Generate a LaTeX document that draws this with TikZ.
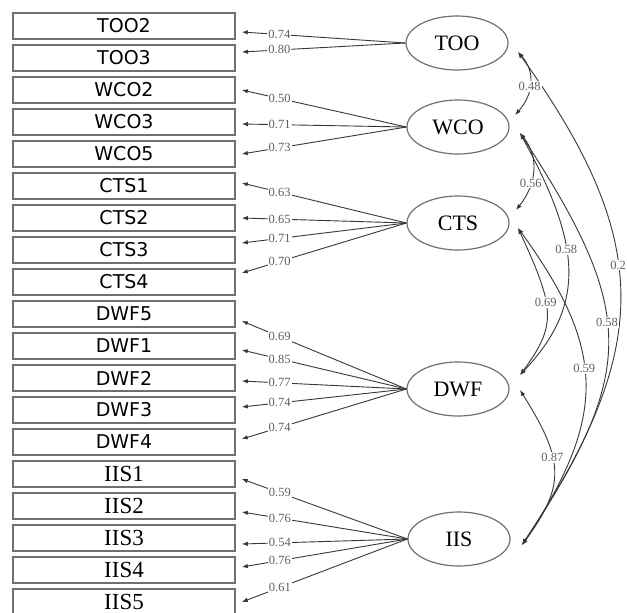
\documentclass[tikz,border=0pt]{standalone}
\usepackage{fontspec}
\setmainfont{Liberation Serif}
\newfontfamily\boxsans{DejaVu Sans}
\usetikzlibrary{calc,arrows.meta,shapes.geometric}
\definecolor{boxgray}{HTML}{707070}
\definecolor{linegray}{HTML}{383838}
\definecolor{labgray}{HTML}{606060}
\begin{document}
\begin{tikzpicture}[x=1pt,y=-1pt,
 obs/.style={draw=boxgray, line width=1.6pt, fill=white, minimum width=222pt, minimum height=26pt, inner sep=0pt, font=\boxsans\fontsize{19}{22}\selectfont},
 obsserif/.style={obs, font=\rmfamily\fontsize{23}{26}\selectfont},
 lat/.style={ellipse, draw=boxgray, line width=1.2pt, minimum width=102pt, minimum height=54pt, inner sep=0pt, font=\fontsize{22}{24}\selectfont},
 load/.style={draw=linegray, line width=0.9pt, -{Latex[length=6pt,width=4.5pt]}},
 cov/.style={draw=linegray, line width=0.9pt, {Latex[length=6pt,width=4.5pt]}-{Latex[length=6pt,width=4.5pt]}},
 lab/.style={fill=white, inner sep=1pt, text=labgray, font=\fontsize{12.5}{14}\selectfont}
]
\useasboundingbox (0,0) rectangle (627,613);
\clip (0,0) rectangle (627,613);
\fill[white] (0,0) rectangle (627,613);

% observed variables
\foreach \n [count=\i from 0] in {TOO2,TOO3,WCO2,WCO3,WCO5,CTS1,CTS2,CTS3,CTS4,DWF5,DWF1,DWF2,DWF3,DWF4}
  \node[obs] (\n) at (124,26+32*\i) {\n};
\foreach \n [count=\i from 14] in {IIS1,IIS2,IIS3,IIS4,IIS5}
  \node[obsserif] (\n) at (124,26+32*\i) {\n};

% latent variables
\node[lat] (TOO) at (457,43) {TOO};
\node[lat] (WCO) at (458,127) {WCO};
\node[lat] (CTS) at (458,223) {CTS};
\node[lat] (DWF) at (458,389) {DWF};
\node[lat] (IIS) at (459,539) {IIS};

% loadings
\foreach \b/\l/\d/\v in {TOO2/TOO/6/0.74, TOO3/TOO/-6/0.80, WCO2/WCO/0/0.50, WCO3/WCO/2/0.71, WCO5/WCO/0/0.73,
  CTS1/CTS/-3/0.63, CTS2/CTS/0/0.65, CTS3/CTS/-7/0.71, CTS4/CTS/-9/0.70,
  DWF5/DWF/7/0.69, DWF1/DWF/4/0.85, DWF2/DWF/3/0.77, DWF3/DWF/-3/0.74, DWF4/DWF/-3/0.74,
  IIS1/IIS/5/0.59, IIS2/IIS/6/0.76, IIS3/IIS/6/0.54, IIS4/IIS/-3/0.76, IIS5/IIS/0/0.61}
  \draw[load] (\l.west) -- ($(\b.east)+(6,\d)$) node[lab,pos=0.77]{\v};

% anchor points for covariances
\coordinate (tooR) at ($(TOO.center)+(61,9)$);
\coordinate (wcoT) at ($(WCO.center)+(57,-12)$);
\coordinate (wcoR) at ($(WCO.center)+(62,6)$);
\coordinate (ctsT) at ($(CTS.center)+(58,-13)$);
\coordinate (ctsR) at ($(CTS.center)+(60,5)$);
\coordinate (dwfT) at ($(DWF.center)+(62,-14)$);
\coordinate (dwfR) at ($(DWF.center)+(62,1)$);
\coordinate (iisR) at ($(IIS.center)+(63,6)$);

% covariances
\draw[cov] (tooR) .. controls +(137,191) and +(130,-196) .. (iisR) node[lab,pos=0.43]{0.2};
\draw[cov] (wcoR) .. controls +(116,178) and +(116,-175) .. (iisR) node[lab,pos=0.45]{0.58};
\draw[cov] (ctsR) .. controls +(87,120) and +(87,-130) .. (iisR) node[lab,pos=0.45]{0.59};
\draw[cov] (wcoR) .. controls +(60,110) and +(68,-72) .. (dwfT) node[lab,pos=0.42]{0.58};
\draw[cov] (ctsR) .. controls +(37,80) and +(37,-50) .. (dwfT) node[lab,pos=0.42]{0.69};
\draw[cov] (dwfR) .. controls +(44,70) and +(44,-60) .. (iisR) node[lab,pos=0.4]{0.87};
\draw[cov] (tooR) .. controls +(18,20) and +(18,-20) .. (wcoT) node[lab,pos=0.55]{0.48};
\draw[cov] (wcoR) .. controls +(20,25) and +(20,-25) .. (ctsT) node[lab,pos=0.65]{0.56};
\end{tikzpicture}
\end{document}
